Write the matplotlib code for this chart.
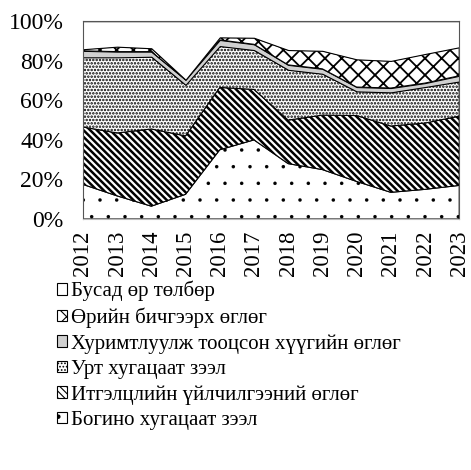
import numpy as np
import matplotlib
matplotlib.use('Agg')
import matplotlib.pyplot as plt

plt.rcParams['font.family'] = ['Liberation Serif', 'DejaVu Serif']

# Он
years = ['2012', '2013', '2014', '2015', '2016', '2017',
         '2018', '2019', '2020', '2021', '2022', '2023']

# Давхарга бүрийн хувь (%)
bogino = [17.5, 11.7, 6.5, 12.5, 35.0, 40.0, 28.0, 25.0, 19.0, 13.5, 15.0, 17.0]
itgeltsel = [29.0, 31.8, 39.0, 29.5, 31.5, 25.5, 22.0, 27.5, 33.3, 33.5, 33.5, 35.0]
urt = [35.2, 38.2, 36.5, 25.8, 20.9, 19.9, 25.4, 20.9, 12.2, 17.0, 18.2, 17.5]
khurimtluulsan = [3.3, 2.9, 2.6, 2.6, 3.1, 2.9, 2.5, 2.5, 2.2, 2.2, 2.0, 2.9]
oriin_bichig = [0.8, 2.5, 1.7, 0.0, 1.3, 3.3, 7.5, 9.1, 14.0, 13.7, 14.7, 14.4]
busad = [14.2, 12.9, 13.7, 29.6, 8.2, 8.4, 14.6, 15.0, 19.3, 20.1, 16.6, 13.2]

labels = ['Богино хугацаат зээл',
          'Итгэлцлийн үйлчилгээний өглөг',
          'Урт хугацаат зээл',
          'Хуримтлуулж тооцсон хүүгийн өглөг',
          'Өрийн бичгээрх өглөг',
          'Бусад өр төлбөр']
series = [bogino, itgeltsel, urt, khurimtluulsan, oriin_bichig, busad]
styles = [
    dict(facecolor='white', hatch='.', lw_h=0.1),
    dict(facecolor='white', hatch='\\' * 5, lw_h=1.8),
    dict(facecolor='white', hatch='.' * 5, lw_h=1.2),
    dict(facecolor='#d0d0d0', hatch=None, lw_h=1.0),
    dict(facecolor='white', hatch='xx', lw_h=1.3),
    dict(facecolor='white', hatch=None, lw_h=1.0),
]

fig = plt.figure(figsize=(4.71, 4.70), dpi=100)
ax = fig.add_axes([0.176, 0.534, 0.799, 0.421])

x = np.arange(len(years))
bottom = np.zeros(len(years))
handles = []
for vals, lab, st in zip(series, labels, styles):
    top = bottom + np.array(vals)
    plt.rcParams['hatch.linewidth'] = st['lw_h']
    h = ax.fill_between(x, bottom, top, facecolor=st['facecolor'],
                        hatch=st['hatch'], edgecolor='black', linewidth=0.8,
                        label=lab)
    if hasattr(h, 'set_hatch_linewidth'):
        h.set_hatch_linewidth(st['lw_h'])
    handles.append(h)
    bottom = top

ax.set_xlim(0, len(years) - 1)
ax.set_ylim(0, 100)
ax.set_xticks(x)
ax.set_xticklabels(years, rotation=90, fontsize=16.5)
ax.set_yticks(np.arange(0, 101, 20))
ax.set_yticklabels([f'{v}%' for v in range(0, 101, 20)], fontsize=17)
ax.tick_params(axis='x', length=0, pad=8)
ax.tick_params(axis='y', length=0, pad=14)
for side in ['top', 'left', 'right']:
    ax.spines[side].set_color('#555555')
    ax.spines[side].set_linewidth(0.8)
ax.spines['bottom'].set_color('#bbbbbb')

plt.rcParams['hatch.linewidth'] = 0.8
leg = fig.legend(handles[::-1], labels[::-1], loc='upper left',
                 bbox_to_anchor=(0.12, 0.403), frameon=False, fontsize=15,
                 handlelength=0.5, handleheight=0.5, handletextpad=0.2,
                 labelspacing=0.3, borderaxespad=0, borderpad=0)

fig.savefig('out.png', dpi=100)
